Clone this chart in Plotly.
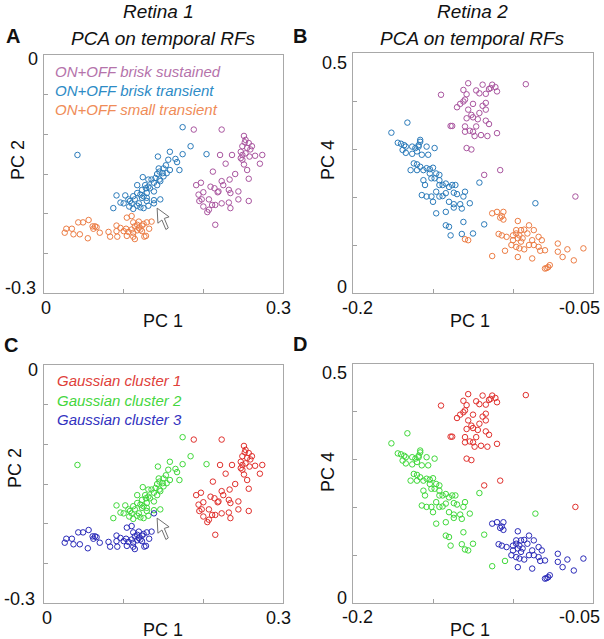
import plotly.graph_objects as go

# ---------------- Retina 1 (PC1 vs PC2) ----------------
r1_bs_pc1 = [0.188, 0.223, 0.251, 0.253, 0.257, 0.249, 0.255, 0.259, 0.253, 0.247, 0.265, 0.274,
             0.236, 0.221, 0.247, 0.271, 0.228, 0.249, 0.251, 0.255, 0.212, 0.240, 0.257, 0.223,
             0.233, 0.197, 0.191, 0.209, 0.225, 0.214, 0.232, 0.219, 0.200, 0.194, 0.198, 0.207,
             0.218, 0.244, 0.257, 0.232, 0.223, 0.211, 0.200, 0.207, 0.205, 0.215, 0.234, 0.234,
             0.195, 0.244, 0.258, 0.249, 0.252, 0.261, 0.215]
r1_bs_pc2 = [-0.094, -0.094, -0.102, -0.107, -0.111, -0.115, -0.117, -0.119, -0.124, -0.122, -0.127, -0.126,
             -0.126, -0.126, -0.130, -0.137, -0.137, -0.132, -0.138, -0.145, -0.147, -0.150, -0.156, -0.159,
             -0.157, -0.161, -0.164, -0.166, -0.164, -0.168, -0.170, -0.172, -0.173, -0.176, -0.182, -0.182,
             -0.173, -0.182, -0.184, -0.186, -0.187, -0.189, -0.191, -0.195, -0.198, -0.189, -0.193, -0.174,
             -0.184, -0.172, -0.128, -0.126, -0.110, -0.115, -0.214]

r1_bt_pc1 = [0.174, 0.184, 0.042, 0.158, 0.143, 0.174, 0.156, 0.167, 0.153, 0.170, 0.158, 0.145,
             0.149, 0.142, 0.140, 0.150, 0.124, 0.131, 0.146, 0.138, 0.142, 0.127, 0.117, 0.133,
             0.123, 0.138, 0.129, 0.121, 0.112, 0.125, 0.091, 0.102, 0.114, 0.108, 0.096, 0.119,
             0.129, 0.138, 0.146, 0.107, 0.121, 0.087, 0.112, 0.131, 0.138, 0.123, 0.117, 0.128,
             0.144, 0.135, 0.131, 0.110, 0.100, 0.125, 0.117, 0.106, 0.129, 0.145, 0.154, 0.150,
             0.204, 0.165]
r1_bt_pc2 = [-0.091, -0.115, -0.126, -0.122, -0.128, -0.125, -0.132, -0.135, -0.139, -0.145, -0.145, -0.147,
             -0.149, -0.150, -0.155, -0.153, -0.154, -0.157, -0.159, -0.161, -0.164, -0.164, -0.164, -0.168,
             -0.170, -0.172, -0.174, -0.176, -0.178, -0.178, -0.177, -0.177, -0.182, -0.184, -0.186, -0.187,
             -0.184, -0.183, -0.182, -0.191, -0.192, -0.193, -0.194, -0.190, -0.187, -0.180, -0.174, -0.168,
             -0.143, -0.157, -0.166, -0.187, -0.187, -0.193, -0.190, -0.182, -0.180, -0.157, -0.149, -0.143,
             -0.125, -0.131]

r1_st_pc1 = [0.056, 0.049, 0.043, 0.061, 0.064, 0.066, 0.028, 0.035, 0.026, 0.037, 0.045, 0.055,
             0.070, 0.081, 0.091, 0.104, 0.110, 0.112, 0.114, 0.117, 0.119, 0.121, 0.123, 0.125,
             0.129, 0.135, 0.117, 0.112, 0.103, 0.100, 0.091, 0.083, 0.092, 0.104, 0.112, 0.114,
             0.128, 0.126, 0.132, 0.106, 0.096, 0.062, 0.119, 0.123, 0.110]
r1_st_pc2 = [-0.208, -0.211, -0.211, -0.216, -0.216, -0.217, -0.219, -0.219, -0.224, -0.226, -0.226, -0.231,
             -0.224, -0.223, -0.215, -0.205, -0.203, -0.211, -0.216, -0.214, -0.218, -0.220, -0.215, -0.213,
             -0.211, -0.210, -0.221, -0.224, -0.219, -0.222, -0.222, -0.229, -0.229, -0.228, -0.229, -0.232,
             -0.228, -0.229, -0.219, -0.223, -0.218, -0.219, -0.210, -0.222, -0.220]

# Gaussian mixture relabelling (indices into brisk-transient that go to cluster 3)
r1_bt_to_gc3 = [44]

# ---------------- Retina 2 (PC1 vs PC4) ----------------
r2_bs_pc1 = [-0.128, -0.119, -0.113, -0.111, -0.114, -0.115, -0.110, -0.131, -0.123, -0.121, -0.129, -0.117,
             -0.145, -0.092, -0.130, -0.131, -0.135, -0.125, -0.119, -0.117, -0.121, -0.128, -0.126, -0.129,
             -0.125, -0.117, -0.115, -0.122, -0.138, -0.139, -0.130, -0.123, -0.127, -0.125, -0.130, -0.120,
             -0.116, -0.110, -0.124, -0.129, -0.126, -0.118, -0.108, -0.061, -0.117, -0.133]
r2_bs_pc4 = [0.437, 0.434, 0.434, 0.429, 0.427, 0.425, 0.420, 0.423, 0.422, 0.416, 0.414, 0.415,
             0.413, 0.435, 0.403, 0.399, 0.387, 0.394, 0.390, 0.382, 0.375, 0.382, 0.371, 0.364,
             0.366, 0.359, 0.352, 0.362, 0.348, 0.348, 0.347, 0.347, 0.338, 0.336, 0.336, 0.329,
             0.327, 0.333, 0.327, 0.302, 0.299, 0.246, 0.256, 0.201, 0.396, 0.394]

r2_bt_pc1 = [-0.176, -0.166, -0.172, -0.170, -0.168, -0.167, -0.169, -0.167, -0.163, -0.161, -0.159, -0.158,
             -0.158, -0.159, -0.160, -0.163, -0.154, -0.149, -0.157, -0.153, -0.162, -0.164, -0.160, -0.158,
             -0.156, -0.154, -0.152, -0.150, -0.152, -0.148, -0.146, -0.156, -0.151, -0.149, -0.146, -0.144,
             -0.142, -0.140, -0.138, -0.136, -0.130, -0.155, -0.157, -0.154, -0.151, -0.148, -0.146, -0.144,
             -0.142, -0.137, -0.135, -0.131, -0.150, -0.140, -0.132, -0.137, -0.133, -0.127, -0.148, -0.142,
             -0.137, -0.131, -0.142, -0.140, -0.139, -0.132, -0.125, -0.118, -0.121, -0.086, -0.160, -0.146]
r2_bt_pc4 = [0.334, 0.355, 0.313, 0.311, 0.308, 0.305, 0.298, 0.292, 0.305, 0.302, 0.308, 0.319,
             0.315, 0.305, 0.295, 0.290, 0.305, 0.302, 0.288, 0.288, 0.270, 0.256, 0.268, 0.263,
             0.256, 0.260, 0.258, 0.261, 0.249, 0.249, 0.246, 0.235, 0.239, 0.239, 0.225, 0.225,
             0.228, 0.221, 0.225, 0.225, 0.211, 0.225, 0.204, 0.201, 0.201, 0.211, 0.201, 0.202,
             0.208, 0.209, 0.206, 0.201, 0.190, 0.190, 0.176, 0.185, 0.185, 0.187, 0.166, 0.169,
             0.178, 0.148, 0.141, 0.138, 0.120, 0.123, 0.124, 0.143, 0.230, 0.187, 0.256, 0.235]

r2_st_pc1 = [-0.113, -0.110, -0.108, -0.106, -0.106, -0.107, -0.097, -0.090, -0.098, -0.095, -0.093, -0.098,
             -0.096, -0.097, -0.094, -0.100, -0.095, -0.101, -0.098, -0.091, -0.087, -0.084, -0.082, -0.109,
             -0.107, -0.104, -0.088, -0.090, -0.096, -0.093, -0.087, -0.083, -0.080, -0.097, -0.088, -0.105,
             -0.113, -0.072, -0.066, -0.056, -0.072, -0.069, -0.062, -0.080, -0.078, -0.077, -0.079, -0.130,
             -0.084, -0.100, -0.128]
r2_st_pc4 = [0.166, 0.169, 0.157, 0.169, 0.153, 0.160, 0.150, 0.141, 0.131, 0.131, 0.132, 0.124,
             0.120, 0.114, 0.114, 0.110, 0.107, 0.100, 0.096, 0.124, 0.131, 0.117, 0.110, 0.123,
             0.120, 0.117, 0.110, 0.100, 0.093, 0.091, 0.100, 0.088, 0.089, 0.075, 0.072, 0.088,
             0.077, 0.103, 0.091, 0.093, 0.086, 0.075, 0.068, 0.051, 0.054, 0.058, 0.052, 0.112,
             0.096, 0.120, 0.110]

# indices into small-transient that the Gaussian mixture assigns to cluster 2
r2_st_to_gc2 = [35, 36, 47, 50]

# arrow outline (panel A / C), data units
arrow_pc1 = [0.142, 0.143, 0.148, 0.153, 0.156, 0.151, 0.157, 0.142]
arrow_pc2 = [-0.193, -0.212, -0.208, -0.220, -0.218, -0.206, -0.204, -0.193]

# axis ticks (labels only at the ends)
r1_x_ticks = [0, 0.1, 0.2, 0.3]
r1_x_labels = ["0", "0.3"]
r1_y_ticks = [-0.3, -0.25, -0.2, -0.15, -0.1, -0.05, 0]
r1_y_labels = ["0", "-0.3"]
r2_x_ticks = [-0.2, -0.15, -0.1, -0.05]
r2_x_labels = ["-0.2", "-0.05"]
r2_y_ticks = [0, 0.1, 0.2, 0.3, 0.4, 0.5]
r2_y_labels = ["0.5", "0"]

type_names = ["ON+OFF brisk sustained", "ON+OFF brisk transient", "ON+OFF small transient"]
gauss_names = ["Gaussian cluster 1", "Gaussian cluster 2", "Gaussian cluster 3"]

type_colors = ["#a9559f", "#2b7bba", "#ec7d45"]
type_text_colors = ["#b573ab", "#2d8bc6", "#ef8c58"]
gauss_colors = ["#e0302d", "#3fd83a", "#2a2ab8"]
gauss_text_colors = ["#e0403a", "#45d63e", "#3232c0"]

W, H = 604, 639
FONT = "Liberation Sans"


def split(xs, ys, idx):
    keep_x = [v for i, v in enumerate(xs) if i not in idx]
    keep_y = [v for i, v in enumerate(ys) if i not in idx]
    mv_x = [xs[i] for i in idx]
    mv_y = [ys[i] for i in idx]
    return keep_x, keep_y, mv_x, mv_y


bt_keep_x, bt_keep_y, bt_mv_x, bt_mv_y = split(r1_bt_pc1, r1_bt_pc2, r1_bt_to_gc3)
g_r1 = [(r1_bs_pc1, r1_bs_pc2), (bt_keep_x, bt_keep_y), (r1_st_pc1 + bt_mv_x, r1_st_pc2 + bt_mv_y)]
st_keep_x, st_keep_y, st_mv_x, st_mv_y = split(r2_st_pc1, r2_st_pc4, r2_st_to_gc2)
g_r2 = [(r2_bs_pc1, r2_bs_pc4), (r2_bt_pc1 + st_mv_x, r2_bt_pc4 + st_mv_y), (st_keep_x, st_keep_y)]

t_r1 = [(r1_bs_pc1, r1_bs_pc2), (r1_bt_pc1, r1_bt_pc2), (r1_st_pc1, r1_st_pc2)]
t_r2 = [(r2_bs_pc1, r2_bs_pc4), (r2_bt_pc1, r2_bt_pc4), (r2_st_pc1, r2_st_pc4)]

fig = go.Figure()

panels = [
    ("x", "y", t_r1, type_colors),
    ("x2", "y2", t_r2, type_colors),
    ("x3", "y3", g_r1, gauss_colors),
    ("x4", "y4", g_r2, gauss_colors),
]
for xa, ya, groups, cols in panels:
    for (gx, gy), c in zip(groups, cols):
        fig.add_trace(go.Scatter(
            x=gx, y=gy, mode="markers", xaxis=xa, yaxis=ya, showlegend=False,
            marker=dict(symbol="circle-open", size=5.5, color=c, line=dict(width=1, color=c)),
            hoverinfo="skip"))


def px(v):
    return v / W


def py(v):
    return 1 - v / H


boxes = {
    "1": (44, 283, 55, 293),
    "2": (353, 593, 53, 293),
    "3": (44, 283, 365, 603),
    "4": (353, 593, 364, 603),
}

axis_common = dict(showgrid=False, zeroline=False, showline=True, linecolor="#a8a8a8", linewidth=1,
                   mirror=True, ticks="inside", ticklen=4, tickcolor="#a0a0a0", tickwidth=1,
                   automargin=False, showticklabels=False, fixedrange=True)

layout = dict(width=W, height=H, margin=dict(l=0, r=0, t=0, b=0, autoexpand=False),
              paper_bgcolor="white", plot_bgcolor="white", showlegend=False)

for key, (x0, x1, y0, y1) in boxes.items():
    sfx = "" if key == "1" else key
    retina1 = key in ("1", "3")
    xr = [0, 0.3] if retina1 else [-0.2, -0.05]
    yr = [-0.3, 0] if retina1 else [0, 0.5]
    layout["xaxis" + sfx] = dict(axis_common, domain=[px(x0), px(x1)], range=xr, anchor="y" + sfx,
                                 tickvals=r1_x_ticks if retina1 else r2_x_ticks)
    layout["yaxis" + sfx] = dict(axis_common, domain=[py(y1), py(y0)], range=yr, anchor="x" + sfx,
                                 tickvals=r1_y_ticks if retina1 else r2_y_ticks)

fig.update_layout(**layout)

ann = []


def text(x, y, s, size=18, color="#111", italic=False, bold=False, xanchor="center", angle=0):
    ann.append(dict(x=px(x), y=py(y), xref="paper", yref="paper", text=s, showarrow=False,
                    xanchor=xanchor, yanchor="middle", textangle=angle,
                    font=dict(family=FONT, size=size, color=color,
                              style="italic" if italic else "normal",
                              weight="bold" if bold else "normal")))


# titles
text(158, 11, "Retina 1", size=19, italic=True)
text(473, 11, "Retina 2", size=19, italic=True)
text(163, 39, "PCA on temporal RFs", size=19, italic=True)
text(472, 39, "PCA on temporal RFs", size=19, italic=True)
# panel letters
text(13, 36, "A", size=20, bold=True)
text(300, 36, "B", size=20, bold=True)
text(11, 345, "C", size=20, bold=True)
text(300, 344, "D", size=20, bold=True)
# axis titles
text(163, 321, "PC 1", size=18)
text(470, 321, "PC 1", size=18)
text(163, 630, "PC 1", size=18)
text(470, 630, "PC 1", size=18)
text(18, 160, "PC 2", size=18, angle=-90)
text(328, 160, "PC 4", size=18, angle=-90)
text(15, 468, "PC 2", size=18, angle=-90)
text(328, 472, "PC 4", size=18, angle=-90)
# end tick labels
TS = 18
text(46, 308, r1_x_labels[0], size=TS)
text(278, 308, r1_x_labels[1], size=TS)
text(40, 59, r1_y_labels[0], size=TS, xanchor="right")
text(38, 288, r1_y_labels[1], size=TS, xanchor="right")
text(357, 308, r2_x_labels[0], size=TS)
text(579, 308, r2_x_labels[1], size=TS)
text(349, 63, r2_y_labels[0], size=TS, xanchor="right")
text(349, 287, r2_y_labels[1], size=TS, xanchor="right")
text(47, 618, r1_x_labels[0], size=TS)
text(278, 618, r1_x_labels[1], size=TS)
text(40, 370, r1_y_labels[0], size=TS, xanchor="right")
text(37, 599, r1_y_labels[1], size=TS, xanchor="right")
text(357, 617, r2_x_labels[0], size=TS)
text(579, 617, r2_x_labels[1], size=TS)
text(349, 373, r2_y_labels[0], size=TS, xanchor="right")
text(349, 598, r2_y_labels[1], size=TS, xanchor="right")
# in-plot labels
for i, (nm, c) in enumerate(zip(type_names, type_text_colors)):
    text(53, 71 + 19.3 * i, nm, size=15, color=c, italic=True, xanchor="left")
for i, (nm, c) in enumerate(zip(gauss_names, gauss_text_colors)):
    text(55, 381 + 19.3 * i, nm, size=15, color=c, italic=True, xanchor="left")

fig.update_layout(annotations=ann)

# arrows (panels A and C)
shapes = []
for xr_, yr_ in (("x", "y"), ("x3", "y3")):
    path = "M " + " L ".join(f"{a},{b}" for a, b in zip(arrow_pc1, arrow_pc2)) + " Z"
    shapes.append(dict(type="path", path=path, xref=xr_, yref=yr_, fillcolor="white",
                       line=dict(color="#707070", width=1)))
fig.update_layout(shapes=shapes)

fig.write_html("out.html", config={"displayModeBar": False},
               post_script="document.body.style.margin='0';document.body.style.overflow='hidden';")
